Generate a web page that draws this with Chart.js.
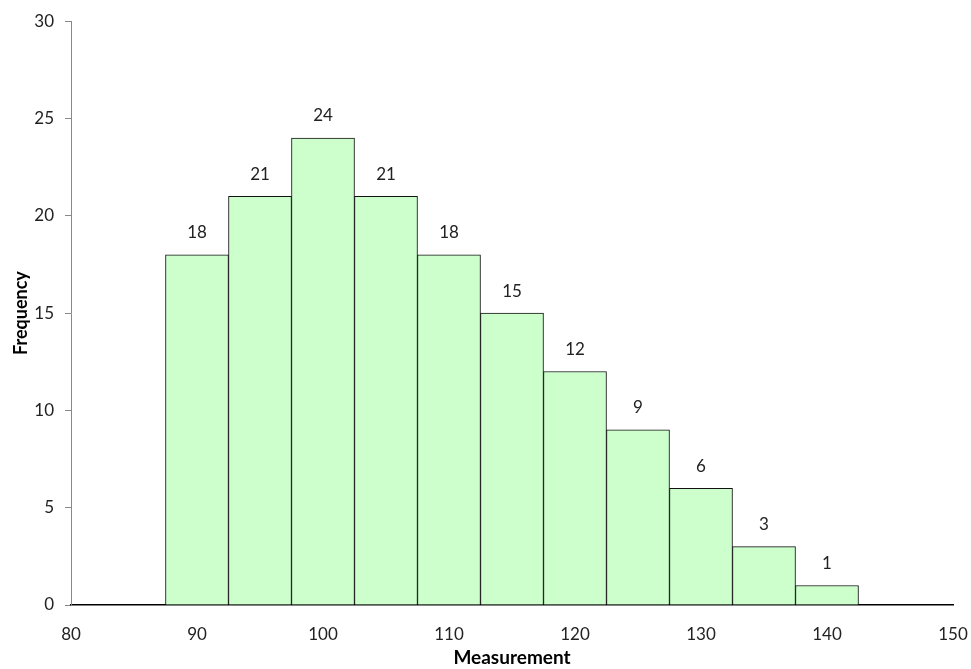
<!DOCTYPE html>
<html>
<head>
<meta charset="utf-8">
<script src="https://cdn.jsdelivr.net/npm/chart.js@4/dist/chart.umd.min.js"></script>
<style>
  html, body { margin: 0; padding: 0; background: #fff; }
  #wrap { width: 971px; height: 669px; position: relative; }
</style>
</head>
<body>
<div id="wrap"><canvas id="c" width="971" height="669"></canvas></div>
<script>
// Histogram bins (centres) and their counts
const binCenters = [90, 95, 100, 105, 110, 115, 120, 125, 130, 135, 140];
const frequencies = [18, 21, 24, 21, 18, 15, 12, 9, 6, 3, 1];
const xTicks = [80, 90, 100, 110, 120, 130, 140, 150];
const yTicks = [0, 5, 10, 15, 20, 25, 30];

const FONT = 'Lato, "Open Sans", "Liberation Sans", sans-serif';

// Count labels above each bar
const countLabels = {
  id: 'countLabels',
  afterDatasetsDraw(chart) {
    const ctx = chart.ctx;
    const meta = chart.getDatasetMeta(0);
    ctx.save();
    ctx.font = '17px ' + FONT;
    ctx.fillStyle = '#222';
    ctx.textAlign = 'center';
    ctx.textBaseline = 'middle';
    meta.data.forEach((bar, i) => {
      ctx.fillText(String(frequencies[i]), bar.x, bar.y - 22);
    });
    ctx.restore();
  }
};

new Chart(document.getElementById('c'), {
  type: 'bar',
  data: {
    datasets: [{
      data: binCenters.map((x, i) => ({ x: x, y: frequencies[i] })),
      backgroundColor: '#CCFFCC',
      borderColor: '#111',
      borderWidth: 1,
      borderSkipped: 'bottom',
      barPercentage: 1,
      categoryPercentage: 1
    }]
  },
  options: {
    responsive: false,
    animation: false,
    layout: { padding: { top: 20, right: 0, left: 0, bottom: 0 } },
    plugins: { legend: { display: false }, tooltip: { enabled: false } },
    scales: {
      x: {
        type: 'linear',
        min: 80, max: 150,
        offset: false,
        afterBuildTicks: (s) => { s.ticks = xTicks.map(v => ({ value: v })); },
        afterFit: (s) => { s.height = 64; s.paddingRight = 18; s.paddingLeft = 0; },
        grid: { display: false, offset: false, drawTicks: false },
        border: { display: true, color: '#000', width: 1.5 },
        ticks: { padding: 19, color: '#222', font: { family: FONT, size: 17 }, maxRotation: 0 },
        title: {
          display: true, text: 'Measurement', color: '#000',
          font: { family: FONT, size: 19, weight: 'bold' }, padding: { top: 1, bottom: 0 }
        }
      },
      y: {
        min: 0, max: 30,
        afterBuildTicks: (s) => { s.ticks = yTicks.map(v => ({ value: v })); },
        afterFit: (s) => { s.width = 71; },
        grid: { drawOnChartArea: false, drawTicks: true, tickLength: 6, color: '#888' },
        border: { display: true, color: '#888', width: 1 },
        ticks: { padding: 11, color: '#222', font: { family: FONT, size: 17 } },
        title: {
          display: true, text: 'Frequency', color: '#000',
          font: { family: FONT, size: 18, weight: 'bold' }, padding: { top: 10, bottom: 4 }
        }
      }
    }
  },
  plugins: [countLabels]
});
</script>
</body>
</html>
